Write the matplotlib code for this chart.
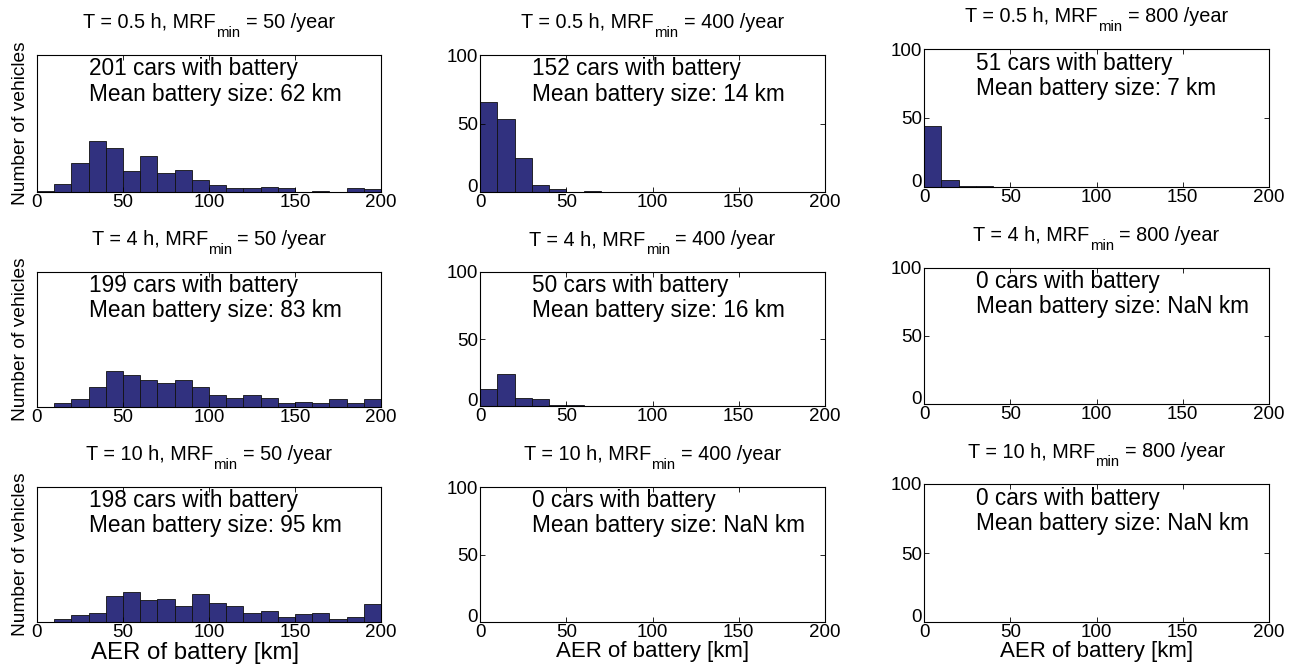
import numpy as np
import matplotlib.pyplot as plt

plt.rcParams['font.family'] = ['Liberation Sans', 'DejaVu Sans']

# histogram bins: 10 km wide from 0 to 200 km
bin_edges = np.arange(0, 201, 10)

charge_times = ['0.5', '4', '10']
mrf_mins = ['50', '400', '800']

cars_with_battery = [[201, 152, 51],
                     [199, 50, 0],
                     [198, 0, 0]]
mean_battery = [['62', '14', '7'],
                ['83', '16', 'NaN'],
                ['95', 'NaN', 'NaN']]

counts_t05_m50 = [1, 6, 21, 37, 32, 15, 26, 14, 16, 9, 5, 3, 3, 4, 3, 0, 1, 0, 3, 2]
counts_t05_m400 = [66, 53, 25, 5, 2, 0, 1, 0, 0, 0, 0, 0, 0, 0, 0, 0, 0, 0, 0, 0]
counts_t05_m800 = [44, 5, 1, 1, 0, 0, 0, 0, 0, 0, 0, 0, 0, 0, 0, 0, 0, 0, 0, 0]
counts_t4_m50 = [0, 3, 6, 15, 27, 24, 20, 18, 20, 15, 9, 7, 9, 7, 3, 4, 3, 6, 3, 6]
counts_t4_m400 = [13, 24, 6, 5, 1, 1, 0, 0, 0, 0, 0, 0, 0, 0, 0, 0, 0, 0, 0, 0]
counts_t10_m50 = [0, 2, 5, 7, 19, 22, 16, 17, 12, 21, 14, 12, 7, 8, 4, 6, 7, 2, 4, 13]

counts = [[counts_t05_m50, counts_t05_m400, counts_t05_m800],
          [counts_t4_m50, counts_t4_m400, None],
          [counts_t10_m50, None, None]]

# axes boxes in pixels (left, top, right, bottom)
boxes = [[(37, 55, 381, 192), (480, 55, 825, 192), (924, 49, 1269, 187)],
         [(37, 272, 381, 407), (480, 272, 825, 406), (924, 268, 1269, 404)],
         [(37, 487, 381, 622), (480, 487, 825, 622), (924, 484, 1269, 622)]]

W, H = 1300, 668
fig = plt.figure(figsize=(W / 100, H / 100), dpi=100)
renderer = fig.canvas.get_renderer()


def title_with_sub(ax, main, sub, tail, size=14.3, subsize=10.7, rise=27, drop=9):
    # MATLAB style title: text, lowered subscript, text
    pieces = []
    for s, fs in [(main, size), (sub, subsize), (tail, size)]:
        t = ax.annotate(s, xy=(0.5, 1), xycoords='axes fraction',
                        xytext=(0, 0), textcoords='offset pixels',
                        fontsize=fs, ha='left', va='baseline')
        pieces.append(t)
    widths = [p.get_window_extent(renderer).width for p in pieces]
    gap = 0.278 * size * 100 / 72
    total = widths[0] + widths[1] + gap + widths[2]
    x0 = -total / 2
    pieces[0].set_position((x0, rise))
    pieces[1].set_position((x0 + widths[0], rise - drop))
    pieces[2].set_position((x0 + widths[0] + widths[1] + gap, rise))


for r in range(3):
    for c in range(3):
        l, t, rr, b = boxes[r][c]
        ax = fig.add_axes([l / W, 1 - b / H, (rr - l) / W, (b - t) / H])
        if counts[r][c] is not None:
            ax.bar(bin_edges[:-1], counts[r][c], width=10, align='edge',
                   color='#31317f', edgecolor='#111111', linewidth=0.6)
        ax.set_xlim(0, 200)
        ax.set_ylim(0, 100)
        ax.set_xticks([0, 50, 100, 150, 200])
        if c == 0:
            ax.set_yticks([])
            ax.set_ylabel('Number of vehicles', fontsize=13.8, labelpad=6)
        else:
            ax.set_yticks([0, 50, 100])
            ax.get_yticklabels()[0].set_verticalalignment('baseline')
        ax.tick_params(direction='in', top=True, right=True, length=3.5,
                       width=0.6, labelsize=13.5, pad=1.5)
        for s in ax.spines.values():
            s.set_linewidth(0.8)
        title_with_sub(ax, 'T = %s h, MRF' % charge_times[r], 'min',
                       '= %s /year' % mrf_mins[c])
        ax.text(30, 89.8, '%d cars with battery' % cars_with_battery[r][c],
                fontsize=16.3, va='center')
        ax.text(30, 71.5, 'Mean battery size: %s km' % mean_battery[r][c],
                fontsize=16.3, va='center')
        if r == 2:
            if c == 0:
                ax.set_xlabel('AER of battery [km]', fontsize=17.3, labelpad=1)
                ax.xaxis.label.set_x(0.46)
            else:
                ax.set_xlabel('AER of battery [km]', fontsize=16, labelpad=0)

fig.savefig('out.png', dpi=100)
